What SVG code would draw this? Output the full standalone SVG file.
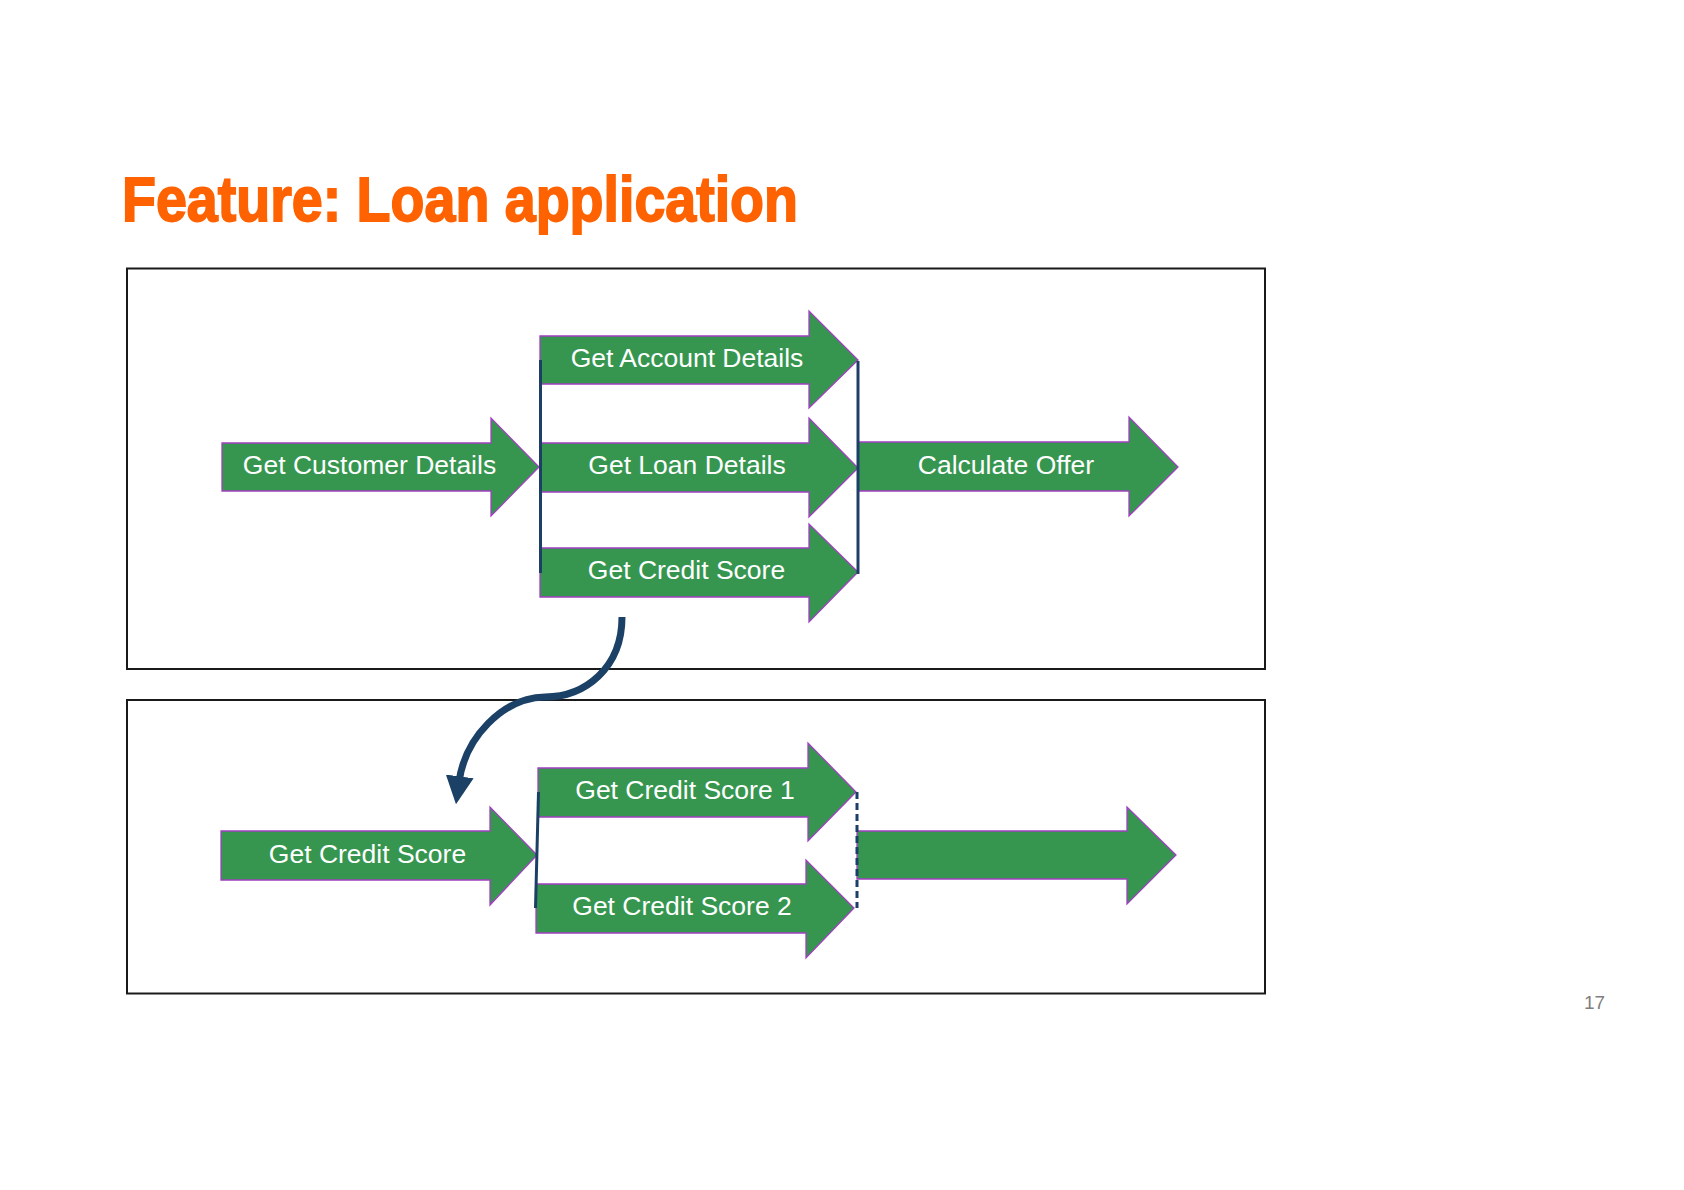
<svg xmlns="http://www.w3.org/2000/svg" width="1684" height="1190" viewBox="0 0 1684 1190">
<style>
.frame{fill:none;stroke:#1a1a1a;stroke-width:2}
.arrow{fill:#36964f;stroke:#a040c0;stroke-width:1.3;stroke-linejoin:miter}
.lbl{font-family:"Liberation Sans",Arial,sans-serif;font-size:26.5px;fill:#ffffff;text-anchor:middle}
.bar{stroke:#1c3f66;stroke-width:3;fill:none}
.dash{stroke:#1c3f66;stroke-width:3;fill:none;stroke-dasharray:7 4}
.flow{stroke:#1c4167;stroke-width:7;fill:none;stroke-linecap:butt}
.title{font-family:"Liberation Sans",Arial,sans-serif;font-weight:bold;font-size:63px;fill:#ff6200;stroke:#ff6200;stroke-width:1.8}
.page{font-family:"Liberation Sans",Arial,sans-serif;font-size:19px;fill:#7f7f7f}
</style>
<defs>
<marker id="head" viewBox="0 0 10 10" refX="2" refY="5" markerWidth="4" markerHeight="4" orient="auto" markerUnits="strokeWidth">
<path d="M0,0 L10,5 L0,10 z" fill="#1c4167"/>
</marker>
</defs>
<rect width="1684" height="1190" fill="#ffffff"/>
<text class="title" x="122" y="221" textLength="676" lengthAdjust="spacingAndGlyphs">Feature: Loan application</text>
<rect class="frame" x="127" y="268.5" width="1138" height="400.5"/>
<rect class="frame" x="127" y="700" width="1138" height="293.5"/>

<g id="node-customer">
<polygon class="arrow" points="222,443 491,443 491,418 539,467 491,516 491,491 222,491"/>
<text class="lbl" x="369.5" y="473.5">Get Customer Details</text>
</g>
<g id="node-account">
<polygon class="arrow" points="540,336 809,336 809,311 858,360 809,408 809,384 540,384"/>
<text class="lbl" x="687" y="367">Get Account Details</text>
</g>
<g id="node-loan">
<polygon class="arrow" points="540,443 809,443 809,418 858,468 809,517 809,492 540,492"/>
<text class="lbl" x="687" y="474">Get Loan Details</text>
</g>
<g id="node-credit">
<polygon class="arrow" points="540,548 809,548 809,524 858,572 809,622 809,597 540,597"/>
<text class="lbl" x="686.5" y="578.5">Get Credit Score</text>
</g>
<g id="node-offer">
<polygon class="arrow" points="858,442 1129,442 1129,417 1178,467 1129,516 1129,491 858,491"/>
<text class="lbl" x="1006" y="474">Calculate Offer</text>
</g>

<g id="node-credit-lower">
<polygon class="arrow" points="221,831 490,831 490,807 537,855 490,905 490,880 221,880"/>
<text class="lbl" x="367.5" y="862.5">Get Credit Score</text>
</g>
<g id="node-credit1">
<polygon class="arrow" points="538,768 808,768 808,743 856,792 808,841 808,817 538,817"/>
<text class="lbl" x="685" y="798.5">Get Credit Score 1</text>
</g>
<g id="node-credit2">
<polygon class="arrow" points="536,884 806,884 806,860 854,908 806,958 806,933 536,933"/>
<text class="lbl" x="682" y="915">Get Credit Score 2</text>
</g>
<g id="node-blank">
<polygon class="arrow" points="857,831 1127,831 1127,807 1176,855 1127,904 1127,879 857,879"/>
</g>

<g id="connectors">
<line class="bar" x1="540.5" y1="360" x2="540.5" y2="573"/>
<line class="bar" x1="858" y1="361" x2="858" y2="574"/>
<line class="bar" x1="538.5" y1="792" x2="535.5" y2="908"/>
<line class="dash" x1="857" y1="792" x2="857" y2="908"/>
<path class="flow" d="M622,617 C622,668 585,697 545,697 C502,698 465,738 459,782" marker-end="url(#head)"/>
</g>

<text class="page" x="1584" y="1009">17</text>
</svg>
